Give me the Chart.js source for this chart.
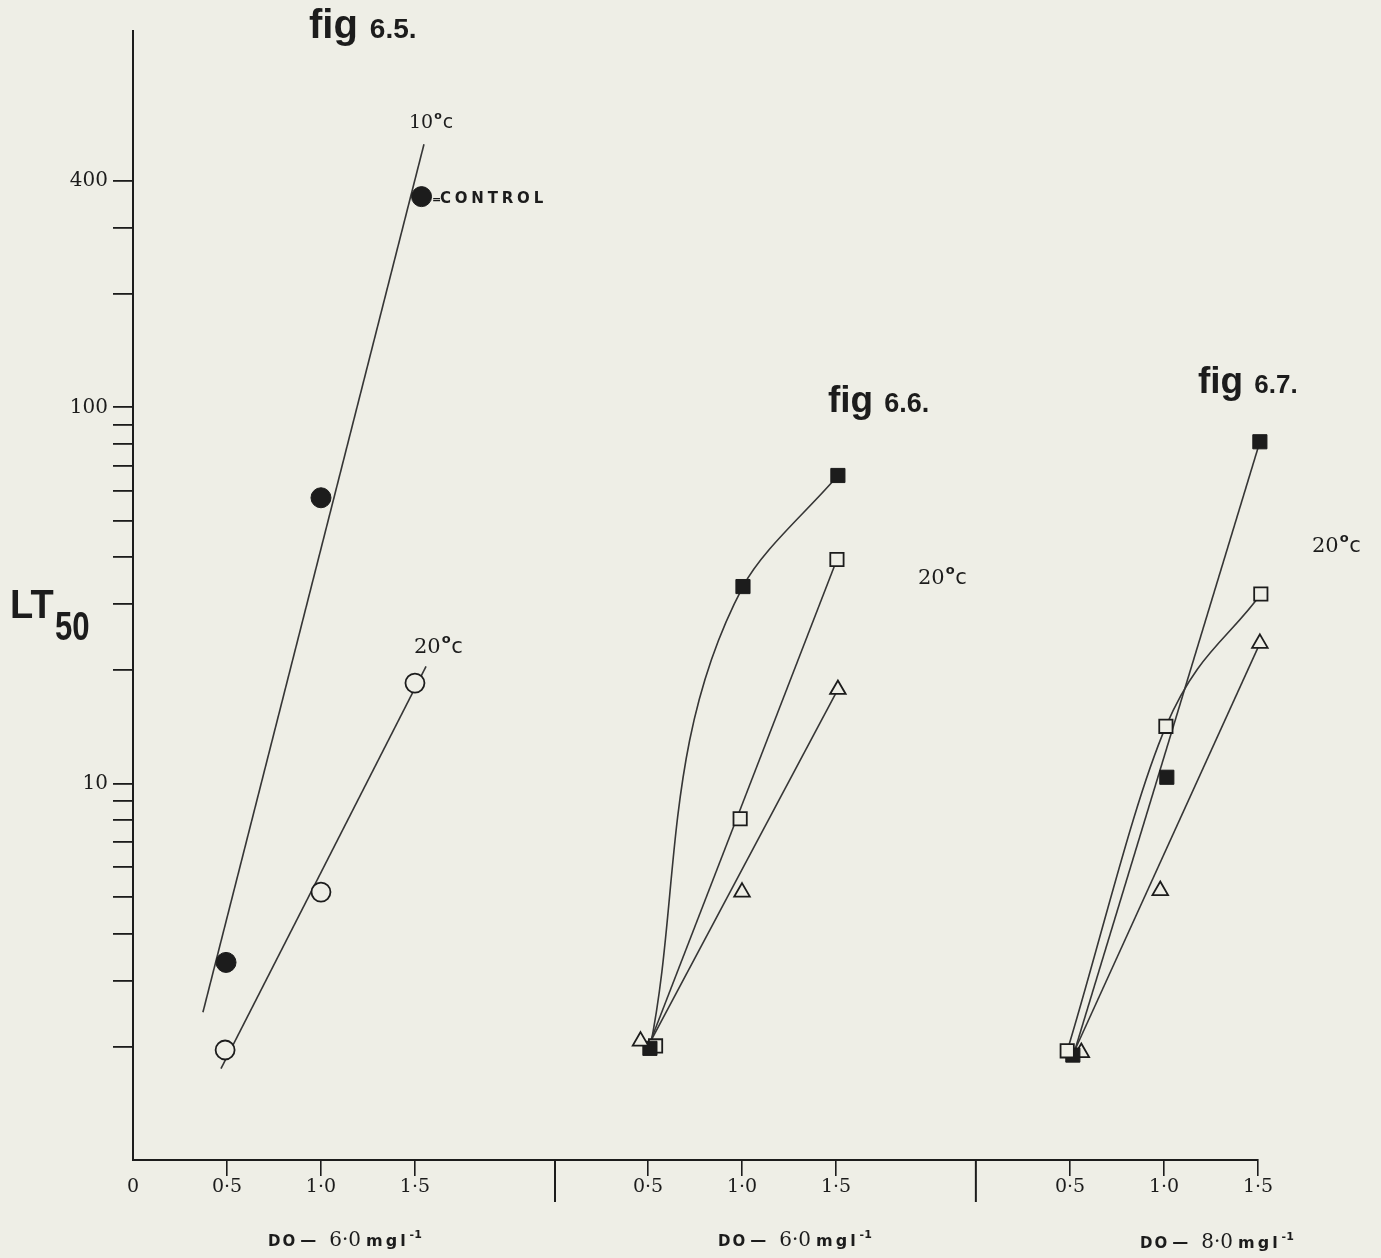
<!DOCTYPE html>
<html>
<head>
<meta charset="utf-8">
<title>LT50 and dissolved oxygen</title>
<script src="https://cdn.jsdelivr.net/npm/chart.js@4"></script>
<style>
  html, body { margin: 0; padding: 0; background: #eeeee6; }
  #wrap { width: 1381px; height: 1258px; }
</style>
</head>
<body>
<div id="wrap"><canvas id="lt50" width="1381" height="1258"></canvas></div>
<script>
// LT50 (log scale) against DO, figs 6.5, 6.6 and 6.7 side by side on one axis

// fig 6.5 — 10°c (filled circles, last one is the control) and 20°c (open circles)
const fig65Temp10X = [0.495, 1.0, 1.535];
const fig65Temp10 = [3.35, 57.5, 363];
const fig65Temp20X = [0.49, 1.0, 1.5];
const fig65Temp20 = [1.96, 5.15, 18.5];
const fig65Fit10X = [0.372, 1.548];
const fig65Fit10Y = [2.47, 500];
const fig65Fit20X = [0.468, 1.559];
const fig65Fit20Y = [1.75, 20.5];

// fig 6.6 — 20°c
const fig66SolidX = [0.51, 1.005, 1.51];
const fig66Solid = [1.98, 33.4, 65.9];
const fig66OpenX = [0.54, 0.99, 1.505];
const fig66Open = [2.01, 8.07, 39.4];
const fig66TriX = [0.46, 1.0, 1.51];
const fig66Tri = [2.07, 5.15, 17.8];
const fig66OpenFitX = [0.51, 1.505];
const fig66OpenFitY = [2.05, 39.4];
const fig66TriFitX = [0.51, 1.51];
const fig66TriFitY = [2.05, 17.8];

// fig 6.7 — 20°c
const fig67SolidX = [0.515, 1.015, 1.51];
const fig67Solid = [1.9, 10.4, 81];
const fig67OpenX = [0.485, 1.01, 1.515];
const fig67Open = [1.95, 14.2, 31.9];
const fig67TriX = [0.56, 0.98, 1.51];
const fig67Tri = [1.93, 5.2, 23.6];
const fig67SolidFitX = [0.526, 1.51];
const fig67SolidFitY = [1.96, 81];
const fig67TriFitX = [0.526, 1.51];
const fig67TriFitY = [1.96, 23.6];

// axes
const yTicks = [2, 3, 4, 5, 6, 7, 8, 9, 10, 20, 30, 40, 50, 60, 70, 80, 90, 100, 200, 300, 400];
const yLabels = [10, 100, 400];
const panelTicks = [[0, 0.5, 1.0, 1.5], [0.5, 1.0, 1.5], [0.5, 1.0, 1.5]];
const panelOffset = [0, 2.24, 4.485];
const panelBreaks = [2.245, 4.484];
const figNames = ['6.5.', '6.6.', '6.7.'];
const doValues = ['6·0', '6·0', '8·0'];

const paper = '#eeeee6';
const ink = '#1c1c1c';
const lineInk = '#363636';

function place(xs, ys, panel) {
  return xs.map((x, i) => ({ x: x + panelOffset[panel], y: ys[i] }));
}

function markerSet(label, xs, ys, panel, style, radius, solid) {
  return {
    label: label,
    data: place(xs, ys, panel),
    showLine: false,
    clip: false,
    order: 0,
    pointStyle: style,
    pointRadius: radius,
    pointHoverRadius: radius,
    pointBackgroundColor: solid ? ink : paper,
    pointBorderColor: ink,
    pointBorderWidth: solid ? 1 : 1.8,
  };
}

// straight fits are two-point lines, the hand-drawn curves go through all three points
// (bend = 'x' or 'y': the axis the monotone curve is run along)
function traceSet(label, xs, ys, panel, bend) {
  const set = {
    label: label,
    data: place(xs, ys, panel),
    showLine: true,
    clip: false,
    order: 1,
    tension: bend ? 0.4 : 0,
    cubicInterpolationMode: bend ? 'monotone' : 'default',
    borderColor: lineInk,
    borderWidth: 1.6,
    pointRadius: 0,
    pointHoverRadius: 0,
  };
  if (bend === 'y') set.indexAxis = 'y';
  return set;
}

function xTickText(v) {
  const panel = v > panelBreaks[1] ? 2 : v > panelBreaks[0] ? 1 : 0;
  const local = v - panelOffset[panel];
  return Math.abs(local) < 1e-6 ? '0' : local.toFixed(1).replace('.', '·');
}

function text(ctx, str, x, y, font, opts) {
  opts = opts || {};
  ctx.save();
  ctx.font = font;
  ctx.fillStyle = ink;
  ctx.textAlign = 'left';
  ctx.textBaseline = 'alphabetic';
  ctx.letterSpacing = opts.spacing || '0px';
  const sx = opts.squeeze || 1;
  ctx.translate(x, y);
  ctx.scale(sx, 1);
  ctx.fillText(str, 0, 0);
  const w = ctx.measureText(str).width * sx;
  ctx.restore();
  return x + w;
}

function tempLabel(ctx, deg, x, y, size) {
  let cx = text(ctx, deg, x, y, size + 'px "DejaVu Serif"');
  text(ctx, 'o', cx + 1, y - size * 0.5, 'bold ' + Math.round(size * 0.6) + 'px "DejaVu Sans"');
  text(ctx, 'c', cx + size * 0.5, y, size + 'px "DejaVu Sans"');
}

function figTitle(ctx, name, x, y, big, small) {
  const cx = text(ctx, 'fig', x, y, 'bold ' + big + 'px "Liberation Sans"');
  text(ctx, name, cx + big * 0.3, y, 'bold ' + small + 'px "Liberation Sans"');
}

function doLabel(ctx, value, x, y) {
  let cx = text(ctx, 'DO', x, y, 'bold 15px "DejaVu Sans"', { spacing: '2px' });
  cx = text(ctx, '—', cx + 3, y - 1, 'bold 16px "DejaVu Sans"');
  cx = text(ctx, value, cx + 13, y, '20px "DejaVu Serif"');
  cx = text(ctx, 'mgl', cx + 5, y, 'bold 16px "DejaVu Sans"', { spacing: '3px' });
  text(ctx, '-1', cx + 1, y - 8, 'bold 11px "DejaVu Sans"');
}

const notes = {
  id: 'notes',
  beforeDraw(chart) {
    const ctx = chart.ctx;
    ctx.save();
    ctx.fillStyle = paper;
    ctx.fillRect(0, 0, chart.width, chart.height);
    ctx.restore();
  },
  afterDraw(chart) {
    const ctx = chart.ctx;
    const x = chart.scales.x;
    const y = chart.scales.y;

    // long ticks that split the three figures
    ctx.save();
    ctx.strokeStyle = ink;
    ctx.lineWidth = 2;
    panelBreaks.forEach(function (b) {
      const px = x.getPixelForValue(b);
      ctx.beginPath();
      ctx.moveTo(px, y.bottom);
      ctx.lineTo(px, y.bottom + 42);
      ctx.stroke();
    });
    ctx.restore();

    // y axis title
    text(ctx, 'LT', 10, 618, 'bold 40px "Liberation Sans"', { squeeze: 0.95 });
    text(ctx, '50', 55, 640, 'bold 41px "Liberation Sans"', { squeeze: 0.76 });

    // figure titles
    figTitle(ctx, figNames[0], 309, 38, 40, 28);
    figTitle(ctx, figNames[1], 828, 412, 37, 27);
    figTitle(ctx, figNames[2], 1198, 393, 37, 26);

    // temperatures
    tempLabel(ctx, '10', 409, 128, 19);
    tempLabel(ctx, '20', 414, 653, 21);
    tempLabel(ctx, '20', 918, 584, 21);
    tempLabel(ctx, '20', 1312, 552, 21);

    // control point note
    text(ctx, '=', 432, 203, 'bold 11px "DejaVu Sans"');
    text(ctx, 'CONTROL', 440, 203, 'bold 15px "DejaVu Sans"', { spacing: '3.8px' });

    // DO level under each figure
    doLabel(ctx, doValues[0], 268, 1246);
    doLabel(ctx, doValues[1], 718, 1246);
    doLabel(ctx, doValues[2], 1140, 1248);
  }
};

const datasets = [
  traceSet('fig 6.5 10°c fit', fig65Fit10X, fig65Fit10Y, 0, null),
  traceSet('fig 6.5 20°c fit', fig65Fit20X, fig65Fit20Y, 0, null),
  markerSet('fig 6.5 10°c', fig65Temp10X, fig65Temp10, 0, 'circle', 10, true),
  markerSet('fig 6.5 20°c', fig65Temp20X, fig65Temp20, 0, 'circle', 9.5, false),

  traceSet('fig 6.6 solid curve', fig66SolidX, fig66Solid, 1, 'y'),
  traceSet('fig 6.6 open fit', fig66OpenFitX, fig66OpenFitY, 1, null),
  traceSet('fig 6.6 triangle fit', fig66TriFitX, fig66TriFitY, 1, null),
  markerSet('fig 6.6 triangles', fig66TriX, fig66Tri, 1, 'triangle', 9, false),
  markerSet('fig 6.6 solid', fig66SolidX, fig66Solid, 1, 'rect', 10, true),
  markerSet('fig 6.6 open', fig66OpenX, fig66Open, 1, 'rect', 9.4, false),

  traceSet('fig 6.7 open curve', fig67OpenX, fig67Open, 2, 'x'),
  traceSet('fig 6.7 solid fit', fig67SolidFitX, fig67SolidFitY, 2, null),
  traceSet('fig 6.7 triangle fit', fig67TriFitX, fig67TriFitY, 2, null),
  markerSet('fig 6.7 open', fig67OpenX, fig67Open, 2, 'rect', 9.4, false),
  markerSet('fig 6.7 solid', fig67SolidX, fig67Solid, 2, 'rect', 10, true),
  markerSet('fig 6.7 triangles', fig67TriX, fig67Tri, 2, 'triangle', 9, false),
];

const xTickValues = [];
panelTicks.forEach(function (list, p) {
  list.forEach(function (v) { xTickValues.push(v + panelOffset[p]); });
});

new Chart(document.getElementById('lt50').getContext('2d'), {
  type: 'scatter',
  data: { datasets: datasets },
  options: {
    responsive: false,
    animation: false,
    layout: { padding: { top: 31, right: 123, left: 0, bottom: 0 } },
    plugins: { legend: { display: false }, tooltip: { enabled: false } },
    scales: {
      x: {
        type: 'linear',
        min: 0,
        max: 5.985,
        afterBuildTicks: function (s) { s.ticks = xTickValues.map(function (v) { return { value: v }; }); },
        afterFit: function (s) { s.height = 98; },
        border: { color: ink, width: 2 },
        grid: {
          drawOnChartArea: false,
          tickLength: 16,
          lineWidth: 1.6,
          color: function (c) { return c.tick && Math.abs(c.tick.value) < 1e-6 ? 'rgba(0,0,0,0)' : ink; },
        },
        ticks: {
          autoSkip: false,
          maxRotation: 0,
          padding: 0,
          color: ink,
          font: { family: 'DejaVu Serif', size: 19 },
          callback: function (v) { return xTickText(v); },
        },
      },
      y: {
        type: 'logarithmic',
        min: 1,
        max: 1000,
        afterBuildTicks: function (s) { s.ticks = yTicks.map(function (v) { return { value: v }; }); },
        afterFit: function (s) { s.width = 133; },
        border: { color: ink, width: 2 },
        grid: { drawOnChartArea: false, tickLength: 20, lineWidth: 1.8, color: ink },
        ticks: {
          autoSkip: false,
          padding: 5,
          color: ink,
          font: { family: 'DejaVu Serif', size: 20 },
          callback: function (v) { return yLabels.indexOf(v) >= 0 ? String(v) : ''; },
        },
      },
    },
  },
  plugins: [notes],
});
</script>
</body>
</html>
